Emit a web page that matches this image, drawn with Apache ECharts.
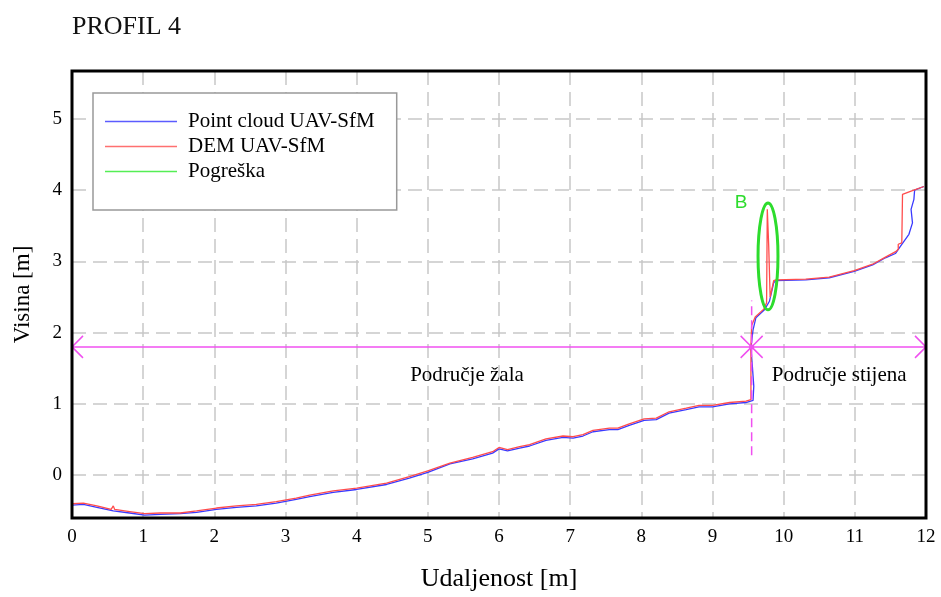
<!DOCTYPE html>
<html>
<head>
<meta charset="utf-8">
<title>PROFIL 4</title>
<script src="https://cdn.jsdelivr.net/npm/echarts@6/dist/echarts.min.js"></script>
<style>
  html, body { margin: 0; padding: 0; background: #fff; }
  #chart { width: 941px; height: 597px; }
</style>
</head>
<body>
<div id="chart"></div>
<script>
// profile values: [distance m, height m]
var pointCloud = [
  [0.00, -0.42], [0.16, -0.41], [0.35, -0.45], [0.58, -0.50], [0.81, -0.53], [1.02, -0.56],
  [1.24, -0.55], [1.52, -0.54], [1.75, -0.52], [2.03, -0.48], [2.31, -0.45], [2.59, -0.43],
  [2.87, -0.39], [3.15, -0.34], [3.34, -0.30], [3.67, -0.24], [4.00, -0.20], [4.42, -0.13],
  [4.74, -0.04], [5.00, 0.04], [5.31, 0.16], [5.63, 0.23], [5.91, 0.31], [6.00, 0.37],
  [6.12, 0.34], [6.29, 0.38], [6.43, 0.41], [6.66, 0.49], [6.90, 0.53], [7.04, 0.52],
  [7.18, 0.55], [7.32, 0.61], [7.55, 0.64], [7.67, 0.64], [7.83, 0.70], [8.04, 0.77],
  [8.21, 0.78], [8.39, 0.87], [8.63, 0.92], [8.81, 0.96], [9.00, 0.96], [9.24, 1.00],
  [9.47, 1.02], [9.57, 1.05], [9.58, 1.25], [9.56, 1.53], [9.54, 1.79], [9.57, 2.04],
  [9.61, 2.21], [9.73, 2.32], [9.80, 2.44], [9.86, 2.70], [9.89, 2.73], [10.31, 2.74],
  [10.64, 2.77], [10.99, 2.86], [11.25, 2.95], [11.43, 3.05], [11.57, 3.11], [11.64, 3.21],
  [11.76, 3.38], [11.81, 3.54], [11.79, 3.73], [11.83, 3.87], [11.84, 4.00], [11.97, 4.05]
]
var demProfile = [
  [0.00, -0.40], [0.16, -0.39], [0.35, -0.43], [0.55, -0.48], [0.58, -0.43], [0.60, -0.48],
  [0.81, -0.51], [1.02, -0.54], [1.24, -0.53], [1.52, -0.53], [1.75, -0.50], [2.03, -0.46],
  [2.31, -0.43], [2.59, -0.41], [2.87, -0.37], [3.15, -0.32], [3.34, -0.28], [3.67, -0.22],
  [4.00, -0.18], [4.42, -0.11], [4.74, -0.02], [5.00, 0.06], [5.31, 0.17], [5.63, 0.25],
  [5.91, 0.33], [6.00, 0.39], [6.12, 0.36], [6.29, 0.40], [6.43, 0.43], [6.66, 0.51],
  [6.90, 0.55], [7.04, 0.54], [7.18, 0.57], [7.32, 0.63], [7.55, 0.66], [7.67, 0.66],
  [7.83, 0.72], [8.04, 0.79], [8.21, 0.80], [8.39, 0.89], [8.63, 0.94], [8.81, 0.98],
  [9.00, 0.98], [9.24, 1.02], [9.47, 1.04], [9.54, 1.06], [9.54, 1.79], [9.55, 2.10],
  [9.60, 2.22], [9.72, 2.33], [9.76, 2.42], [9.77, 3.73], [9.78, 3.73], [9.79, 3.21],
  [9.81, 3.21], [9.81, 2.50], [9.83, 2.50], [9.86, 2.73], [9.89, 2.74], [10.31, 2.75],
  [10.64, 2.78], [10.99, 2.87], [11.25, 2.96], [11.43, 3.06], [11.58, 3.14], [11.61, 3.17],
  [11.61, 3.24], [11.66, 3.26], [11.67, 3.94], [11.80, 3.99], [11.97, 4.05]
]
var seriesNames = ['Point cloud UAV-SfM', 'DEM UAV-SfM', 'Pogreška']

// zone annotation: [from x, to x, height]
var zoneSegments = [[0, 9.55, 1.8], [9.55, 12, 1.8]]
var zoneLabels = ['Područje žala', 'Područje stijena']
var zoneLabelPos = [[5.55, 1.40], [10.78, 1.40]]
// dashed divider: [x, from y, to y]
var divider = [[9.55, 0.28, 2.45]]
// error ellipse B: [centre x, centre y, radius x, radius y]
var errorEllipse = [[9.78, 3.07, 0.14, 0.75]]
var errorLabelPos = [9.40, 3.82]

var magenta = '#f050f0'
var green = '#2ddc2d'
var serif = '"Liberation Serif", "Times New Roman", serif'

var chart = echarts.init(document.getElementById('chart'))

function chevron(p, dir) {
  return {
    type: 'polyline',
    shape: { points: [[p[0] + dir * 11, p[1] - 11], p, [p[0] + dir * 11, p[1] + 11]] },
    style: { stroke: magenta, lineWidth: 1.5, fill: null }
  }
}

chart.setOption({
  animation: false,
  title: {
    text: 'PROFIL 4',
    left: 67,
    top: 9,
    textStyle: { fontFamily: serif, fontSize: 26, fontWeight: 'normal', color: '#111' }
  },
  grid: {
    left: 72,
    right: 15,
    top: 71,
    bottom: 78,
    show: true,
    borderColor: '#000',
    borderWidth: 3,
    z: 10
  },
  legend: {
    data: seriesNames,
    orient: 'vertical',
    left: 93,
    top: 93,
    icon: 'rect',
    backgroundColor: '#fff',
    borderColor: '#999',
    borderWidth: 1.5,
    padding: [18, 22, 28, 12],
    itemWidth: 72,
    itemHeight: 1.5,
    itemGap: 4,
    textStyle: { fontFamily: serif, fontSize: 21, color: '#000', lineHeight: 21, padding: [0, 0, 0, 6] }
  },
  xAxis: {
    type: 'value',
    min: 0,
    max: 12,
    interval: 1,
    name: 'Udaljenost [m]',
    nameLocation: 'middle',
    nameGap: 48,
    nameTextStyle: { fontFamily: serif, fontSize: 26, color: '#000' },
    axisLine: { show: false },
    axisTick: { show: false },
    axisLabel: { fontFamily: serif, fontSize: 19, color: '#000', margin: 10 },
    splitLine: { lineStyle: { color: '#c8c8c8', width: 1.5, type: [14, 7] } }
  },
  yAxis: {
    type: 'value',
    min: -0.6,
    max: 5.67,
    name: 'Visina [m]',
    nameLocation: 'middle',
    nameGap: 38,
    nameTextStyle: { fontFamily: serif, fontSize: 23, color: '#000' },
    axisLine: { show: false },
    axisTick: { show: false },
    axisLabel: {
      fontFamily: serif, fontSize: 19, color: '#000', margin: 10,
      showMinLabel: false, showMaxLabel: false,
      formatter: function (v) { return Number.isInteger(v) ? String(v) : '' }
    },
    splitLine: { lineStyle: { color: '#c8c8c8', width: 1.5, type: [14, 7] } }
  },
  series: [
    {
      name: seriesNames[0],
      type: 'line',
      data: pointCloud,
      symbol: 'none',
      lineStyle: { color: '#3a3aff', width: 1.3 },
      itemStyle: { color: '#5c5cff' }
    },
    {
      name: seriesNames[1],
      type: 'line',
      data: demProfile,
      symbol: 'none',
      lineStyle: { color: '#ff4d4d', width: 1.3 },
      itemStyle: { color: '#ff7070' }
    },
    {
      name: seriesNames[2],
      type: 'line',
      data: [],
      symbol: 'none',
      lineStyle: { color: '#55ee55', width: 1.3 },
      itemStyle: { color: '#55ee55' }
    },
    {
      // zone arrows
      type: 'custom',
      data: zoneSegments,
      encode: { x: [0, 1], y: 2 },
      silent: true,
      z: 5,
      renderItem: function (params, api) {
        var a = api.coord([api.value(0), api.value(2)])
        var b = api.coord([api.value(1), api.value(2)])
        var children = [
          { type: 'line', shape: { x1: a[0], y1: a[1], x2: b[0], y2: b[1] }, style: { stroke: magenta, lineWidth: 1.5 } },
          chevron(a, 1),
          chevron(b, -1)
        ]
        if (params.dataIndex === 0) {
          children.push({ type: 'circle', shape: { cx: b[0], cy: b[1], r: 2.5 }, style: { fill: magenta } })
        }
        return { type: 'group', children: children }
      }
    },
    {
      // divider between zones
      type: 'custom',
      data: divider,
      encode: { x: 0, y: [1, 2] },
      silent: true,
      z: 4,
      renderItem: function (params, api) {
        var a = api.coord([api.value(0), api.value(1)])
        var b = api.coord([api.value(0), api.value(2)])
        return {
          type: 'line',
          shape: { x1: a[0], y1: a[1], x2: b[0], y2: b[1] },
          style: { stroke: magenta, lineWidth: 1.5, lineDash: [9, 5] }
        }
      }
    },
    {
      // zone labels
      type: 'custom',
      data: zoneLabelPos,
      encode: { x: 0, y: 1 },
      silent: true,
      z: 6,
      renderItem: function (params, api) {
        var p = api.coord([api.value(0), api.value(1)])
        return {
          type: 'text',
          x: p[0],
          y: p[1],
          style: {
            text: zoneLabels[params.dataIndex],
            font: '21px ' + serif,
            fill: '#000',
            align: 'center',
            verticalAlign: 'middle'
          }
        }
      }
    },
    {
      // error ellipse B
      type: 'custom',
      data: errorEllipse,
      encode: { x: 0, y: 1 },
      silent: true,
      z: 6,
      renderItem: function (params, api) {
        var c = api.coord([api.value(0), api.value(1)])
        var s = api.size([api.value(2), api.value(3)])
        var t = api.coord(errorLabelPos)
        return {
          type: 'group',
          children: [
            {
              type: 'ellipse',
              shape: { cx: c[0], cy: c[1], rx: s[0], ry: s[1] },
              style: { stroke: green, lineWidth: 3, fill: null }
            },
            {
              type: 'text',
              x: t[0],
              y: t[1],
              style: {
                text: 'B',
                font: '19px "Liberation Sans", Arial, sans-serif',
                fill: green,
                align: 'center',
                verticalAlign: 'middle'
              }
            }
          ]
        }
      }
    }
  ]
})
</script>
</body>
</html>
